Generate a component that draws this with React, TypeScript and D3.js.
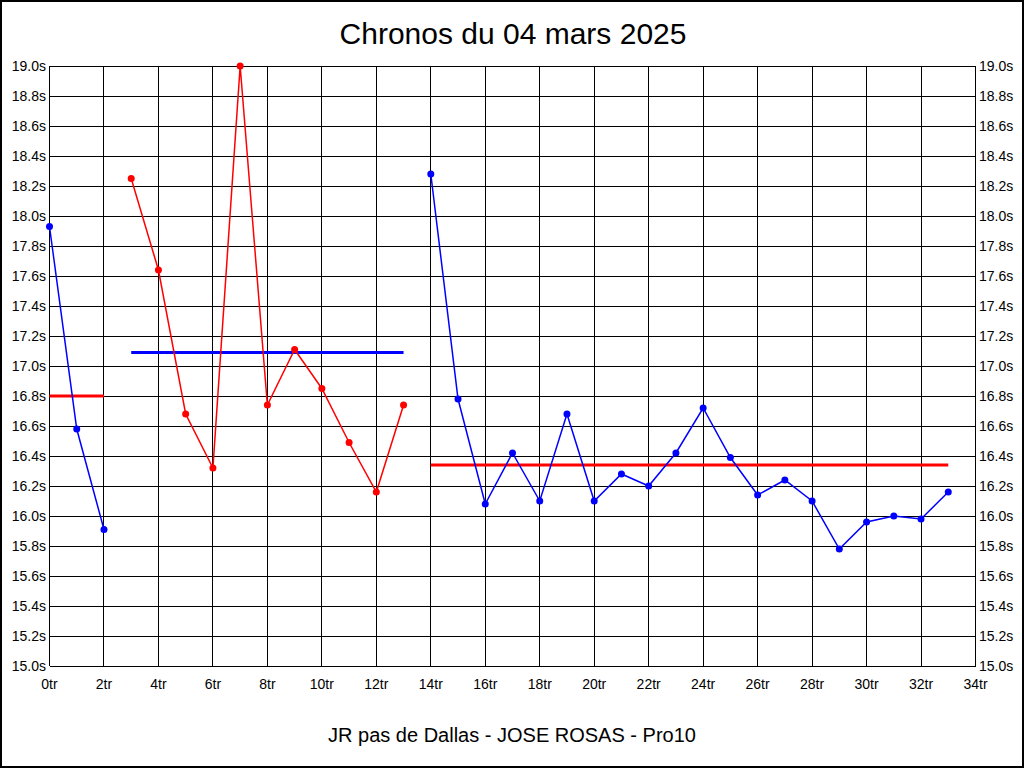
import React from "react";
import * as d3 from "d3";

const title = "Chronos du 04 mars 2025";
const subtitle = "JR pas de Dallas - JOSE ROSAS - Pro10";

// Segment 1 (blue), laps 0..2
const seg1Laps = [0, 1, 2];
const seg1Times = [17.93, 16.58, 15.91];
const seg1Mean = 16.8;

// Segment 2 (red), laps 3..13
const seg2Laps = [3, 4, 5, 6, 7, 8, 9, 10, 11, 12, 13];
const seg2Times = [18.25, 17.64, 16.68, 16.32, 19.0, 16.74, 17.11, 16.85, 16.49, 16.16, 16.74];
const seg2Mean = 17.09;

// Segment 3 (blue), laps 14..33
const seg3Laps = [14, 15, 16, 17, 18, 19, 20, 21, 22, 23, 24, 25, 26, 27, 28, 29, 30, 31, 32, 33];
const seg3Times = [18.28, 16.78, 16.08, 16.42, 16.1, 16.68, 16.1, 16.28, 16.2, 16.42, 16.72, 16.39, 16.14, 16.24, 16.1, 15.78, 15.96, 16.0, 15.98, 16.16];
const seg3Mean = 16.34;

const xTicks = d3.range(0, 35, 2);
const yTicks = d3.range(0, 21).map((i) => +(15 + i * 0.2).toFixed(1));

export default function App() {
  const W = 1024, H = 768;
  const x = d3.scaleLinear().domain([0, 34]).range([49.5, 975.5]);
  const y = d3.scaleLinear().domain([15, 19]).range([666, 66]);
  const line = d3.line<[number, number]>().x((d) => x(d[0])).y((d) => y(d[1]));
  const font = "'Liberation Sans', Arial, sans-serif";

  const series = [
    { laps: seg1Laps, times: seg1Times, color: "#0000ff" },
    { laps: seg2Laps, times: seg2Times, color: "#ff0000" },
    { laps: seg3Laps, times: seg3Times, color: "#0000ff" },
  ];
  const means = [
    { from: seg1Laps[0], to: seg1Laps[seg1Laps.length - 1], v: seg1Mean, color: "#ff0000" },
    { from: seg2Laps[0], to: seg2Laps[seg2Laps.length - 1], v: seg2Mean, color: "#0000ff" },
    { from: seg3Laps[0], to: seg3Laps[seg3Laps.length - 1], v: seg3Mean, color: "#ff0000" },
  ];

  return (
    <div style={{ position: "absolute", left: 0, top: 0 }}>
      <svg width={W} height={H} style={{ display: "block" }}>
        <rect x={0} y={0} width={W} height={H} fill="#fff" />
        <rect x={1} y={1} width={W - 2} height={H - 2} fill="none" stroke="#000" strokeWidth={2} />
        <text x={513} y={44} textAnchor="middle" fontFamily={font} fontSize={30} fill="#000">
          {title}
        </text>
        {xTicks.map((t) => (
          <line key={"vx" + t} x1={x(t)} x2={x(t)} y1={y(15)} y2={y(19)} stroke="#000" strokeWidth={1} shapeRendering="crispEdges" />
        ))}
        {yTicks.map((t) => (
          <line key={"hy" + t} x1={x(0)} x2={x(34)} y1={y(t)} y2={y(t)} stroke="#000" strokeWidth={1} shapeRendering="crispEdges" />
        ))}
        {yTicks.map((t) => (
          <g key={"ly" + t}>
            <text x={46} y={y(t) + 5} textAnchor="end" fontFamily={font} fontSize={14} fill="#000">
              {t.toFixed(1) + "s"}
            </text>
            <text x={979} y={y(t) + 5} textAnchor="start" fontFamily={font} fontSize={14} fill="#000">
              {t.toFixed(1) + "s"}
            </text>
          </g>
        ))}
        {xTicks.map((t) => (
          <text key={"lx" + t} x={x(t)} y={689} textAnchor="middle" fontFamily={font} fontSize={14} fill="#000">
            {t + "tr"}
          </text>
        ))}
        {means.map((m, i) => (
          <line key={"m" + i} x1={x(m.from)} x2={x(m.to)} y1={y(m.v)} y2={y(m.v)} stroke={m.color} strokeWidth={3} />
        ))}
        {series.map((s, i) => {
          const pts = s.laps.map((l, j) => [l, s.times[j]] as [number, number]);
          return (
            <g key={"s" + i}>
              <path d={line(pts) || ""} fill="none" stroke={s.color} strokeWidth={1.5} />
              {pts.map((p, j) => (
                <circle key={j} cx={x(p[0])} cy={y(p[1])} r={3.5} fill={s.color} />
              ))}
            </g>
          );
        })}
        <text x={512} y={742} textAnchor="middle" fontFamily={font} fontSize={20} fill="#000">
          {subtitle}
        </text>
      </svg>
    </div>
  );
}
